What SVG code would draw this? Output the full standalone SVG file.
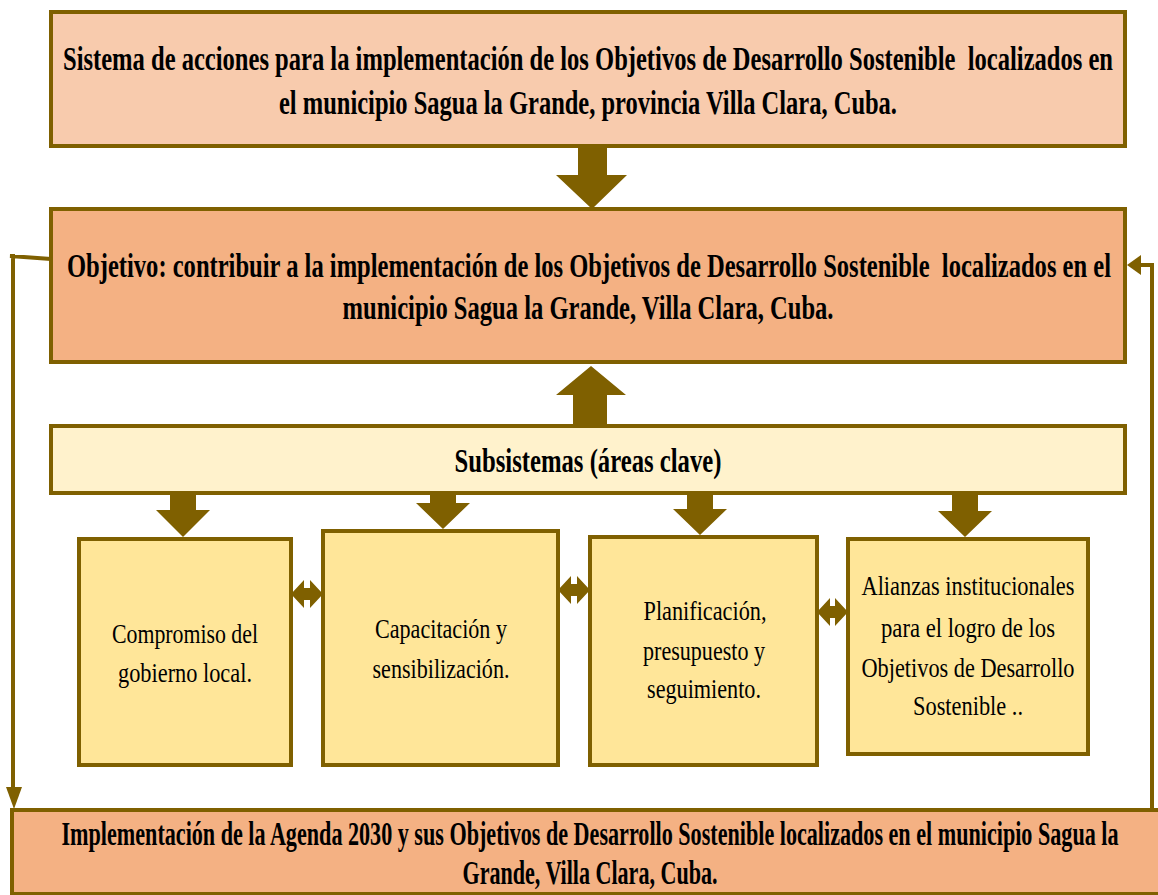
<svg xmlns="http://www.w3.org/2000/svg" width="1158" height="895" viewBox="0 0 1158 895">
<style>
.box{stroke:#7f6000;stroke-width:4}
.b1{fill:#f8cbad}.b2{fill:#f4b183}.b3{fill:#fff2cc}.b4{fill:#ffe699}
.hd{font-family:"Liberation Serif","Times New Roman",serif;font-weight:bold;font-size:34px;fill:#000;text-anchor:middle;white-space:pre}
.sm{font-family:"Liberation Serif","Times New Roman",serif;font-size:28px;fill:#000;text-anchor:middle}
.ar{fill:#7f6000}
.ln{fill:none;stroke:#7f6000;stroke-width:4}
</style>
<rect width="1158" height="895" fill="#ffffff"/>
<g id="top">
<rect class="box b1" x="51" y="12" width="1074" height="134"/>
<text class="hd" x="588" y="70" textLength="1050" lengthAdjust="spacingAndGlyphs">Sistema de acciones para la implementación de los Objetivos de Desarrollo Sostenible  localizados en</text>
<text class="hd" x="588" y="114" textLength="618" lengthAdjust="spacingAndGlyphs">el municipio Sagua la Grande, provincia Villa Clara, Cuba.</text>
</g>
<g id="objetivo">
<rect class="box b2" x="51" y="209" width="1074" height="153"/>
<text class="hd" x="589" y="277" textLength="1044" lengthAdjust="spacingAndGlyphs">Objetivo: contribuir a la implementación de los Objetivos de Desarrollo Sostenible  localizados en el</text>
<text class="hd" x="588" y="319" textLength="491" lengthAdjust="spacingAndGlyphs">municipio Sagua la Grande, Villa Clara, Cuba.</text>
</g>
<g id="subsistemas">
<rect class="box b3" x="51" y="426" width="1074" height="67"/>
<text class="hd" x="588" y="472" textLength="267" lengthAdjust="spacingAndGlyphs">Subsistemas (áreas clave)</text>
</g>
<g id="compromiso">
<rect class="box b4" x="79" y="539" width="212" height="226"/>
<text class="sm" x="185" y="643" textLength="146" lengthAdjust="spacingAndGlyphs">Compromiso del</text>
<text class="sm" x="185" y="682" textLength="134" lengthAdjust="spacingAndGlyphs">gobierno local.</text>
</g>
<g id="capacitacion">
<rect class="box b4" x="323" y="531" width="235" height="234"/>
<text class="sm" x="441" y="638" textLength="132" lengthAdjust="spacingAndGlyphs">Capacitación y</text>
<text class="sm" x="441" y="678" textLength="137" lengthAdjust="spacingAndGlyphs">sensibilización.</text>
</g>
<g id="planificacion">
<rect class="box b4" x="590" y="537" width="227" height="228"/>
<text class="sm" x="705" y="620" textLength="123" lengthAdjust="spacingAndGlyphs">Planificación,</text>
<text class="sm" x="704" y="660" textLength="122" lengthAdjust="spacingAndGlyphs">presupuesto y</text>
<text class="sm" x="704" y="698" textLength="114" lengthAdjust="spacingAndGlyphs">seguimiento.</text>
</g>
<g id="alianzas">
<rect class="box b4" x="848" y="539" width="240" height="215"/>
<text class="sm" x="968" y="595" textLength="213" lengthAdjust="spacingAndGlyphs">Alianzas institucionales</text>
<text class="sm" x="968" y="637" textLength="174" lengthAdjust="spacingAndGlyphs">para el logro de los</text>
<text class="sm" x="968" y="677" textLength="213" lengthAdjust="spacingAndGlyphs">Objetivos de Desarrollo</text>
<text class="sm" x="968" y="715" textLength="110" lengthAdjust="spacingAndGlyphs">Sostenible ..</text>
</g>
<g id="implementacion">
<rect class="box b2" x="12" y="810" width="1152" height="84"/>
<text class="hd" x="590" y="845" textLength="1057" lengthAdjust="spacingAndGlyphs">Implementación de la Agenda 2030 y sus Objetivos de Desarrollo Sostenible localizados en el municipio Sagua la</text>
<text class="hd" x="590" y="884" textLength="255" lengthAdjust="spacingAndGlyphs">Grande, Villa Clara, Cuba.</text>
</g>
<g id="connectors">
<polygon class="ar" points="578,146 607,146 607,175 627,175 592,209 556,175 578,175"/>
<polygon class="ar" points="573,424 607,424 607,395 626,395 591,366 556,395 573,395"/>
<polygon class="ar" points="170,493 196,493 196,510 210,510 183,537 156,510 170,510"/>
<polygon class="ar" points="430,493 456,493 456,503 470,503 443,529 416,503 430,503"/>
<polygon class="ar" points="687,493 713,493 713,509 727,509 700,535 673,509 687,509"/>
<polygon class="ar" points="952,493 978,493 978,511 992,511 965,537 938,511 952,511"/>
<polygon class="ar" points="291,594 304,580 304,588 310,588 310,580 323,594 310,608 310,600 304,600 304,608"/>
<polygon class="ar" points="558,590 571,576 571,584 577,584 577,576 590,590 577,604 577,596 571,596 571,604"/>
<polygon class="ar" points="817,612 830,598 830,606 835,606 835,598 848,612 835,626 835,618 830,618 830,626"/>
<polyline class="ln" points="51,259 10,256 13,256 13,789"/>
<polygon class="ar" points="6,787 22,787 14,809"/>
<polyline class="ln" points="1152,810 1152,265 1138,265"/>
<polygon class="ar" points="1141,255 1141,275 1127,265"/>
</g>
</svg>
